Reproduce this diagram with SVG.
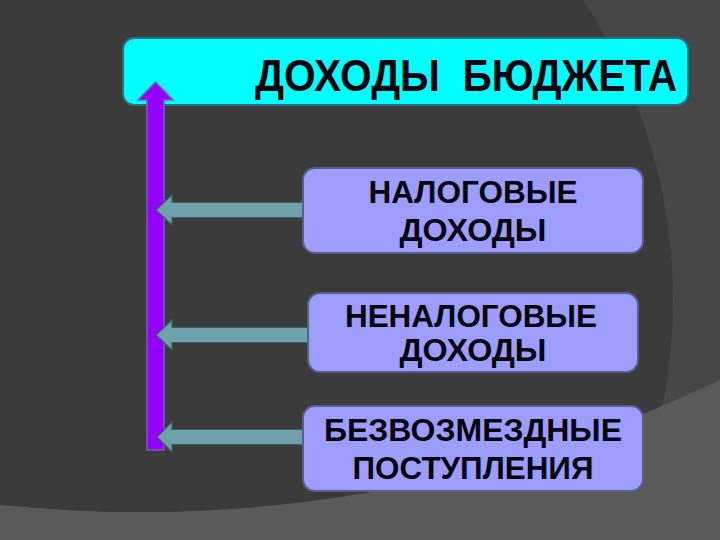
<svg xmlns="http://www.w3.org/2000/svg" width="720" height="540" viewBox="0 0 720 540">
<defs>
<style>
.box{fill:#9d9dfd;stroke:#55608a;stroke-width:2}
.title{fill:#00ffff;stroke:#2d6f80;stroke-width:2}
.t{font-family:"Liberation Sans",Arial,sans-serif;font-weight:bold;fill:#05050f;text-anchor:middle}
.tb{font-size:31px}
.side{fill:#6fa1aa;stroke:#3e5d64;stroke-width:1.2}
.up{fill:#9400ff;stroke:#7464a8;stroke-width:1.5}
</style>
<clipPath id="bigc"><circle cx="140" cy="-828" r="1340"/></clipPath>
</defs>
<g id="background">
<rect x="0" y="0" width="720" height="540" fill="#5a5a5a"/>
<circle cx="140" cy="-828" r="1340" fill="#474747"/>
<circle cx="128" cy="300" r="545" fill="#3b3b3b" clip-path="url(#bigc)"/>
</g>
<g id="node-title">
<rect class="title" x="123" y="38" width="565" height="67" rx="11"/>
<text class="t" x="466" y="91" font-size="44" textLength="422" lengthAdjust="spacingAndGlyphs" xml:space="preserve" style="white-space:pre">ДОХОДЫ  БЮДЖЕТА</text>
</g>
<g id="connectors">
<polygon class="up" points="147,450 164,450 164,100 173,100 155.5,82 138,100 147,100"/>
<polygon class="side" points="306,202.5 172,202.5 172,195 156,210 172,225 172,217.5 306,217.5"/>
<polygon class="side" points="310,327.5 172,327.5 172,320 156,335 172,350 172,342.5 310,342.5"/>
<polygon class="side" points="306,429.5 172,429.5 172,422 157,437 172,452 172,444.5 306,444.5"/>
</g>
<g id="node-tax">
<rect class="box" x="303" y="168" width="340" height="85" rx="12"/>
<text class="t tb" x="473" y="203" textLength="209" lengthAdjust="spacingAndGlyphs">НАЛОГОВЫЕ</text>
<text class="t tb" x="473" y="241" textLength="147" lengthAdjust="spacingAndGlyphs">ДОХОДЫ</text>
</g>
<g id="node-nontax">
<rect class="box" x="308" y="293" width="330" height="79" rx="12"/>
<text class="t tb" x="471" y="327" textLength="252" lengthAdjust="spacingAndGlyphs">НЕНАЛОГОВЫЕ</text>
<text class="t tb" x="473" y="361" textLength="147" lengthAdjust="spacingAndGlyphs">ДОХОДЫ</text>
</g>
<g id="node-free">
<rect class="box" x="303" y="406" width="340" height="85" rx="12"/>
<text class="t tb" x="473" y="441" textLength="298" lengthAdjust="spacingAndGlyphs">БЕЗВОЗМЕЗДНЫЕ</text>
<text class="t tb" x="473" y="479" textLength="241" lengthAdjust="spacingAndGlyphs">ПОСТУПЛЕНИЯ</text>
</g>
</svg>
